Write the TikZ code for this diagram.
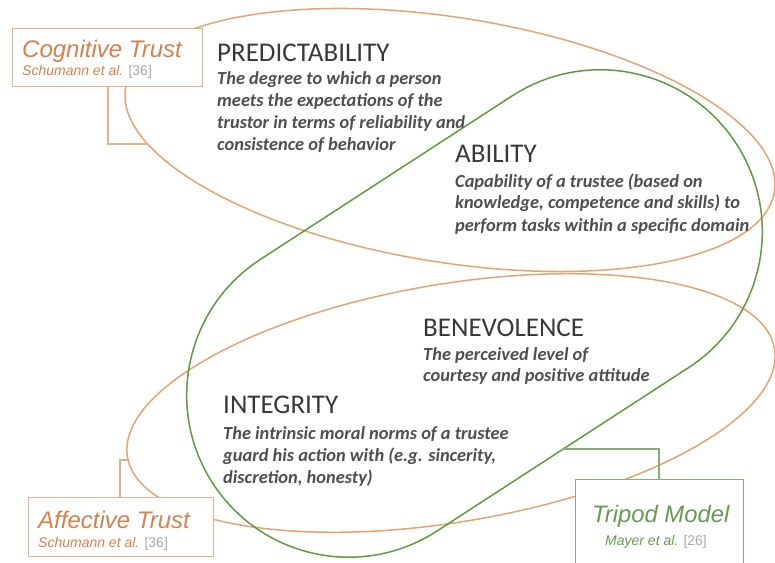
\documentclass[tikz,border=0pt]{standalone}
\usepackage{fontspec}
\setmainfont{Carlito}
\newfontfamily\arialf{Liberation Sans}
\definecolor{olinec}{HTML}{E4A36F}
\definecolor{oboxc}{HTML}{E8B088}
\definecolor{otextc}{HTML}{D6804C}
\definecolor{glinec}{HTML}{5E9B3F}
\definecolor{gboxc}{HTML}{86B070}
\definecolor{gtextc}{HTML}{6A9852}
\definecolor{refc}{HTML}{A8A8A8}
\definecolor{headc}{HTML}{383838}
\definecolor{descc}{HTML}{4E4E4E}
\begin{document}
\begin{tikzpicture}[x=1pt,y=1pt,
  orangeline/.style={draw=olinec, line width=1.5pt},
  greenline/.style={draw=glinec, line width=1.5pt},
  obox/.style={draw=oboxc, fill=white, line width=1.3pt, inner sep=0pt, anchor=north west},
  gbox/.style={draw=gboxc, fill=white, line width=1.3pt, inner sep=0pt, anchor=north west},
  oconn/.style={draw=oboxc, line width=1.3pt},
  gconn/.style={draw=gboxc, line width=1.3pt},
  otitle/.style={anchor=base west, inner sep=0pt, text=otextc, font=\arialf\itshape\fontsize{24}{26}\selectfont},
  oref/.style={anchor=base west, inner sep=0pt, text=otextc, font=\arialf\itshape\fontsize{14}{16}\selectfont},
  gtitle/.style={anchor=base west, inner sep=0pt, text=gtextc, font=\arialf\itshape\fontsize{23.8}{26}\selectfont},
  gref/.style={anchor=base west, inner sep=0pt, text=gtextc, font=\arialf\itshape\fontsize{14}{16}\selectfont},
  head/.style={anchor=base west, inner sep=0pt, text=headc, font=\fontsize{27}{30}\selectfont},
  desc/.style={anchor=base west, inner sep=0pt, text=descc, font=\bfseries\itshape\fontsize{18.4}{22}\selectfont}
]
\useasboundingbox (0,0) rectangle (775,562);
% ellipses
\draw[orangeline, rotate around={-9.07:(450,422)}] (450,422) ellipse [x radius=328.5pt, y radius=122.4pt];
\draw[orangeline, rotate around={9.5:(451,159)}] (451,159) ellipse [x radius=328pt, y radius=119pt];
% green stadium
\draw[greenline, shift={(474.5,248.5)}, rotate=33]
  (-150,-162) -- (150,-162) arc[start angle=-90, end angle=90, radius=162pt]
  -- (-150,162) arc[start angle=90, end angle=270, radius=162pt] -- cycle;
% boxes
\node[obox, minimum width=190pt, minimum height=58pt] (cogbox) at (12,534) {};
\node[obox, minimum width=185pt, minimum height=59pt] (affbox) at (28,65) {};
\node[gbox, minimum width=168pt, minimum height=87pt] (tribox) at (575,83) {};
% connectors
\coordinate (cogjoin) at (148,418);
\coordinate (cogbend) at (108,418);
\draw[oconn] (cogbox.south -| cogbend) -- (cogbend) -- (cogjoin);
\coordinate (affjoin) at (128,102);
\coordinate (affbend) at (120,102);
\draw[oconn] (affbox.north -| affbend) -- (affbend) -- (affjoin);
\coordinate (trijoin) at (563.4,113);
\coordinate (tribend) at (659,113);
\draw[gconn] (tribox.north -| tribend) -- (tribend) -- (trijoin);
% box texts
\node[otitle] (cogt) at (22,504) {Cognitive Trust};
\node[oref] (cogr) at (22,486) {Schumann et al. \textcolor{refc}{\upshape[36]}};
\node[otitle] (afft) at (38,34) {Affective Trust};
\node[oref] (affr) at (38,15) {Schumann et al. \textcolor{refc}{\upshape[36]}};
\node[gtitle] (trit) at (592,40) {Tripod Model};
\node[gref] (trir) at (605,17) {Mayer et al. \textcolor{refc}{\upshape[26]}};
% headings and descriptions
\node[head] (predh) at (217,500) {PREDICTABILITY};
\node[desc] (pred1) at (217,477) {The degree to which a person};
\node[desc] (pred2) at (217,455) {meets the expectations of the};
\node[desc] (pred3) at (217,433) {trustor in terms of reliability and};
\node[desc] (pred4) at (217,411) {consistence of behavior};
\node[head] (abih) at (455,399) {ABILITY};
\node[desc] (abi1) at (455,374) {Capability of a trustee (based on};
\node[desc] (abi2) at (455,353) {knowledge, competence and skills) to};
\node[desc] (abi3) at (455,330) {perform tasks within a specific domain};
\node[head] (benh) at (423,225) {BENEVOLENCE};
\node[desc] (ben1) at (423,201) {The perceived level of};
\node[desc] (ben2) at (423,180) {courtesy and positive attitude};
\node[head] (inth) at (223,149) {INTEGRITY};
\node[desc] (int1) at (223,123) {The intrinsic moral norms of a trustee};
\node[desc] (int2) at (223,101) {guard his action with (e.g. sincerity,};
\node[desc] (int3) at (223,79) {discretion, honesty)};
\end{tikzpicture}
\end{document}
